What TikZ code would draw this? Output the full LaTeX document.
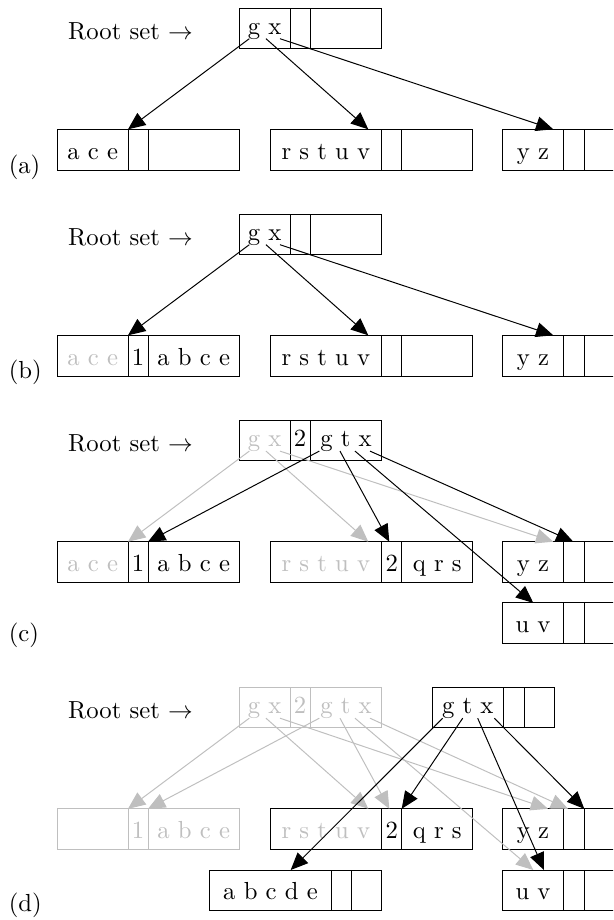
\documentclass[tikz,border=0pt]{standalone}
\usetikzlibrary{arrows.meta}
\newcommand{\boxcell}[7]{\node[#1, minimum width={(#5-#3)*0.405pt}, minimum height={(#6-#4)*0.405pt}] (#2) at ({(#3+#5)/2},{(#4+#6)/2}) {#7};}
\tikzset{
  cellbase/.style={draw, rectangle, inner sep=0pt, line width=0.4pt},
  rowcell/.style={cellbase, text height=7.8pt, text depth=0.2pt},
  rootcell/.style={cellbase, text height=6.8pt, text depth=1.94pt},
  fade/.style={text=black!25},
  fadebox/.style={draw=black!25, text=black!25},
  lbl/.style={anchor=base west, inner sep=0pt},
  arr/.style={-{Triangle[length=7pt,width=6pt]}, line width=0.4pt},
  garr/.style={arr, color=black!25},
}
\begin{document}
\begin{tikzpicture}[x=0.405pt,y=-0.405pt]
\useasboundingbox (0,0) rectangle (613,920);
\clip (0,0) rectangle (613,920);

% ---------------- (a) ----------------
\begin{scope}[shift={(0,0)}]
\node[lbl] (a-rs) at (67.7,39.3) {Root set $\rightarrow$};
\node[lbl] (a-lab) at (8.3,173.8) {(a)};
\boxcell{rootcell}{a-r1}{239.3}{8.3}{290}{48.3}{g x}
\boxcell{rootcell}{a-r2}{290}{8.3}{310.3}{48.3}{}
\boxcell{rootcell}{a-r3}{310.3}{8.3}{381.7}{48.3}{}
\boxcell{rowcell}{a-A1}{57.3}{129.3}{128}{170}{a c e}
\boxcell{rowcell}{a-A2}{128}{129.3}{148}{170}{}
\boxcell{rowcell}{a-A3}{148}{129.3}{239.3}{170}{}
\boxcell{rowcell}{a-B1}{270}{129.3}{381.7}{170}{r s t u v}
\boxcell{rowcell}{a-B2}{381.7}{129.3}{401.7}{170}{}
\boxcell{rowcell}{a-B3}{401.7}{129.3}{472.7}{170}{}
\boxcell{rowcell}{a-C1}{502.7}{129.3}{563.3}{170}{y z}
\boxcell{rowcell}{a-C2}{563.3}{129.3}{584}{170}{}
\boxcell{rowcell}{a-C3}{584}{129.3}{660}{170}{}
\coordinate (a-s1) at (249.3,38.7); \coordinate (a-t1) at (128,129.3);
\coordinate (a-s2) at (266,38.7);   \coordinate (a-t2) at (368.3,129.3);
\coordinate (a-s3) at (280,38.7);   \coordinate (a-t3) at (553.3,129.3);
\draw[arr] (a-s1) -- (a-t1);
\draw[arr] (a-s2) -- (a-t2);
\draw[arr] (a-s3) -- (a-t3);
\end{scope}

% ---------------- (b) ----------------
\begin{scope}[shift={(0,206)}]
\node[lbl] (b-rs) at (67.7,39.3) {Root set $\rightarrow$};
\node[lbl] (b-lab) at (8.3,172.5) {(b)};
\boxcell{rootcell}{b-r1}{239.3}{8.3}{290}{48.3}{g x}
\boxcell{rootcell}{b-r2}{290}{8.3}{310.3}{48.3}{}
\boxcell{rootcell}{b-r3}{310.3}{8.3}{381.7}{48.3}{}
\boxcell{rowcell,fade}{b-A1}{57.3}{129.3}{128}{170}{a c e}
\boxcell{rowcell}{b-A2}{128}{129.3}{148}{170}{1}
\boxcell{rowcell}{b-A3}{148}{129.3}{239.3}{170}{a b c e}
\boxcell{rowcell}{b-B1}{270}{129.3}{381.7}{170}{r s t u v}
\boxcell{rowcell}{b-B2}{381.7}{129.3}{401.7}{170}{}
\boxcell{rowcell}{b-B3}{401.7}{129.3}{472.7}{170}{}
\boxcell{rowcell}{b-C1}{502.7}{129.3}{563.3}{170}{y z}
\boxcell{rowcell}{b-C2}{563.3}{129.3}{584}{170}{}
\boxcell{rowcell}{b-C3}{584}{129.3}{660}{170}{}
\coordinate (b-s1) at (249.3,38.7); \coordinate (b-t1) at (128,129.3);
\coordinate (b-s2) at (266,38.7);   \coordinate (b-t2) at (368.3,129.3);
\coordinate (b-s3) at (280,38.7);   \coordinate (b-t3) at (553.3,129.3);
\draw[arr] (b-s1) -- (b-t1);
\draw[arr] (b-s2) -- (b-t2);
\draw[arr] (b-s3) -- (b-t3);
\end{scope}

% ---------------- (c) ----------------
\begin{scope}[shift={(0,412.4)}]
\node[lbl] (c-rs) at (67.7,39.3) {Root set $\rightarrow$};
\node[lbl] (c-lab) at (8.3,229.4) {(c)};
\boxcell{rootcell,fade}{c-r1}{239.3}{8.3}{290}{48.3}{g x}
\boxcell{rootcell}{c-r2}{290}{8.3}{310.3}{48.3}{2}
\boxcell{rootcell}{c-r3}{310.3}{8.3}{381.7}{48.3}{g t x}
\boxcell{rowcell,fade}{c-A1}{57.3}{129.3}{128}{170}{a c e}
\boxcell{rowcell}{c-A2}{128}{129.3}{148}{170}{1}
\boxcell{rowcell}{c-A3}{148}{129.3}{239.3}{170}{a b c e}
\boxcell{rowcell,fade}{c-B1}{270}{129.3}{381.7}{170}{r s t u v}
\boxcell{rowcell}{c-B2}{381.7}{129.3}{401.7}{170}{2}
\boxcell{rowcell}{c-B3}{401.7}{129.3}{472.7}{170}{q r s}
\boxcell{rowcell}{c-C1}{502.7}{129.3}{563.3}{170}{y z}
\boxcell{rowcell}{c-C2}{563.3}{129.3}{584}{170}{}
\boxcell{rowcell}{c-C3}{584}{129.3}{660}{170}{}
\boxcell{rowcell}{c-U1}{502.7}{190.5}{563.3}{231}{u v}
\boxcell{rowcell}{c-U2}{563.3}{190.5}{584}{231}{}
\boxcell{rowcell}{c-U3}{584}{190.5}{660}{231}{}
\coordinate (c-s1) at (249.3,38.7); \coordinate (c-t1) at (128,129.3);
\coordinate (c-s2) at (266,38.7);   \coordinate (c-t2) at (368.3,129.3);
\coordinate (c-s3) at (280,38.7);   \coordinate (c-t3) at (553.3,129.3);
\coordinate (c-s4) at (319.3,38.7); \coordinate (c-t4) at (148,129.3);
\coordinate (c-s5) at (340,38.7);   \coordinate (c-t5) at (389.3,129.3);
\coordinate (c-s6) at (355,38.7);   \coordinate (c-t6) at (533.3,190.5);
\coordinate (c-s7) at (370,38.7);   \coordinate (c-t7) at (573.3,129.3);
\draw[garr] (c-s1) -- (c-t1);
\draw[garr] (c-s2) -- (c-t2);
\draw[garr] (c-s3) -- (c-t3);
\draw[arr] (c-s4) -- (c-t4);
\draw[arr] (c-s5) -- (c-t5);
\draw[arr] (c-s6) -- (c-t6);
\draw[arr] (c-s7) -- (c-t7);
\end{scope}

% ---------------- (d) ----------------
\begin{scope}[shift={(0,679.5)}]
\node[lbl] (d-rs) at (67.7,39.3) {Root set $\rightarrow$};
\node[lbl] (d-lab) at (8.3,232.3) {(d)};
\boxcell{rootcell,fadebox}{d-r1}{239.3}{8.3}{290}{48.3}{g x}
\boxcell{rootcell,fadebox}{d-r2}{290}{8.3}{310.3}{48.3}{2}
\boxcell{rootcell,fadebox}{d-r3}{310.3}{8.3}{381.7}{48.3}{g t x}
\boxcell{rootcell}{d-n1}{432.3}{8.3}{503.3}{48.3}{g t x}
\boxcell{rootcell}{d-n2}{503.3}{8.3}{524}{48.3}{}
\boxcell{rootcell}{d-n3}{524}{8.3}{554}{48.3}{}
\boxcell{rowcell,fadebox}{d-A1}{57.3}{129.3}{128}{170}{}
\boxcell{rowcell,fadebox}{d-A2}{128}{129.3}{148}{170}{1}
\boxcell{rowcell,fadebox}{d-A3}{148}{129.3}{239.3}{170}{a b c e}
\boxcell{rowcell,fade}{d-B1}{270}{129.3}{381.7}{170}{r s t u v}
\boxcell{rowcell}{d-B2}{381.7}{129.3}{401.7}{170}{2}
\boxcell{rowcell}{d-B3}{401.7}{129.3}{472.7}{170}{q r s}
\boxcell{rowcell}{d-C1}{502.7}{129.3}{563.3}{170}{y z}
\boxcell{rowcell}{d-C2}{563.3}{129.3}{584}{170}{}
\boxcell{rowcell}{d-C3}{584}{129.3}{660}{170}{}
\boxcell{rowcell}{d-D1}{209.3}{190.5}{331.7}{231}{a b c d e}
\boxcell{rowcell}{d-D2}{331.7}{190.5}{351.7}{231}{}
\boxcell{rowcell}{d-D3}{351.7}{190.5}{381.7}{231}{}
\boxcell{rowcell}{d-U1}{502.7}{190.5}{563.3}{231}{u v}
\boxcell{rowcell}{d-U2}{563.3}{190.5}{584}{231}{}
\boxcell{rowcell}{d-U3}{584}{190.5}{660}{231}{}
\coordinate (d-s1) at (249.3,38.7); \coordinate (d-t1) at (128,129.3);
\coordinate (d-s2) at (266,38.7);   \coordinate (d-t2) at (368.3,129.3);
\coordinate (d-s3) at (280,38.7);   \coordinate (d-t3) at (548,129.3);
\coordinate (d-s4) at (319.3,38.7); \coordinate (d-t4) at (148,129.3);
\coordinate (d-s5) at (340,38.7);   \coordinate (d-t5) at (389.3,129.3);
\coordinate (d-s6) at (355,38.7);   \coordinate (d-t6) at (533.3,190.5);
\coordinate (d-s7) at (370,38.7);   \coordinate (d-t7) at (568,129.3);
\coordinate (d-n1s) at (442.7,38.7); \coordinate (d-n1t) at (290.7,190.5);
\coordinate (d-n2s) at (462.7,38.7); \coordinate (d-n2t) at (401.7,129.3);
\coordinate (d-n3s) at (477.7,38.7); \coordinate (d-n3t) at (544,190.5);
\coordinate (d-n4s) at (494.3,38.7); \coordinate (d-n4t) at (584.3,129.3);
\draw[garr] (d-s1) -- (d-t1);
\draw[garr] (d-s2) -- (d-t2);
\draw[garr] (d-s3) -- (d-t3);
\draw[garr] (d-s4) -- (d-t4);
\draw[garr] (d-s5) -- (d-t5);
\draw[garr] (d-s6) -- (d-t6);
\draw[garr] (d-s7) -- (d-t7);
\draw[arr] (d-n1s) -- (d-n1t);
\draw[arr] (d-n2s) -- (d-n2t);
\draw[arr] (d-n3s) -- (d-n3t);
\draw[arr] (d-n4s) -- (d-n4t);
\end{scope}
\end{tikzpicture}
\end{document}
